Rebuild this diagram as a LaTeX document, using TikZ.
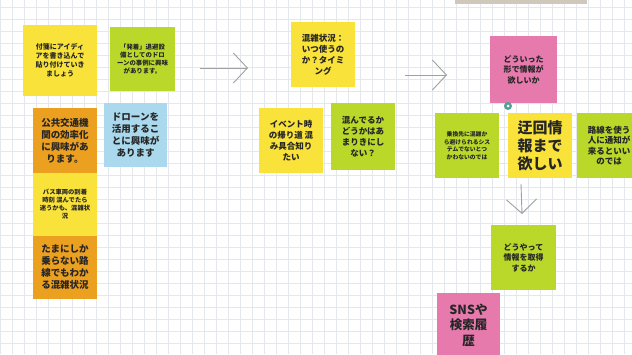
\documentclass[tikz,border=0pt]{standalone}
\usepackage{fontspec}
\newfontfamily\cjk{Noto Sans CJK JP}
\usetikzlibrary{arrows.meta}
\definecolor{nyellow}{RGB}{249,226,58}
\definecolor{ngreen}{RGB}{186,216,42}
\definecolor{norange}{RGB}{236,160,32}
\definecolor{nblue}{RGB}{170,216,236}
\definecolor{npink}{RGB}{230,122,172}
\definecolor{gridc}{RGB}{228,231,235}
\definecolor{arrowc}{RGB}{160,160,160}
\definecolor{pinc}{RGB}{82,160,150}
\definecolor{barc}{RGB}{208,200,186}
\tikzset{
  gridline/.style={draw=gridc, line width=0.5pt},
  note/.style={inner sep=0pt, align=center, text=black!85,
    font=\cjk\bfseries\fontsize{8}{10}\selectfont},
  flow/.style={draw=arrowc, line width=0.9pt,
    -{Straight Barb[length=14pt,width=30pt,line width=0.9pt]}},
}
\begin{document}
\begin{tikzpicture}[x=1pt,y=-1pt]
\useasboundingbox (0,0) rectangle (632,354);
\clip (0,0) rectangle (632,354);
\fill[white] (0,0) rectangle (632,354);
\foreach \x in {0,12,...,636} \draw[gridline] (\x,0) -- (\x,354);
\foreach \y in {7,19,...,355} \draw[gridline] (0,\y) -- (632,\y);
\fill[barc] (455,0) rectangle (587,4);

% left cluster
\node[note, fill=nyellow, minimum width=74pt, minimum height=71pt,
  font=\cjk\bfseries\fontsize{7}{9}\selectfont] (n1) at (60,60)
  {付箋にアイディ\\アを書き込んで\\貼り付けていき\\ましょう};
\node[note, fill=ngreen, minimum width=65pt, minimum height=64pt,
  font=\cjk\bfseries\fontsize{6.4}{8}\selectfont] (n2) at (142.5,59)
  {「発着」退避設\\備としてのドロ\\ーンの事例に興味\\があります。};
\node[note, fill=norange, minimum width=64pt, minimum height=66pt,
  font=\cjk\bfseries\fontsize{9.5}{12}\selectfont] (n3) at (65,141)
  {公共交通機\\関の効率化\\に興味があ\\ります。};
\node[note, fill=nblue, minimum width=63pt, minimum height=64pt,
  font=\cjk\bfseries\fontsize{9.5}{12}\selectfont] (n4) at (135.5,135)
  {ドローンを\\活用するこ\\とに興味が\\あります};
\node[note, fill=nyellow, minimum width=64pt, minimum height=63pt,
  font=\cjk\bfseries\fontsize{6.3}{8}\selectfont] (n5) at (65,204.5)
  {バス車両の到着\\時刻 混んでたら\\迷うかも、混雑状\\況};
\node[note, fill=norange, minimum width=64pt, minimum height=63pt,
  font=\cjk\bfseries\fontsize{9.5}{12}\selectfont] (n6) at (65,267.5)
  {たまにしか\\乗らない路\\線でもわか\\る混雑状況};

% middle cluster
\node[note, fill=nyellow, minimum width=64pt, minimum height=65pt,
  font=\cjk\bfseries\fontsize{8.5}{11}\selectfont] (n7) at (323,54.5)
  {混雑状況：\\いつ使うの\\か？タイミ\\ング};
\node[note, fill=nyellow, minimum width=64pt, minimum height=65pt,
  font=\cjk\bfseries\fontsize{8.5}{11}\selectfont] (n8) at (291,140.5)
  {イベント時\\の帰り道 混\\み具合知り\\たい};
\node[note, fill=ngreen, minimum width=64pt, minimum height=67pt,
  font=\cjk\bfseries\fontsize{8.5}{11}\selectfont] (n9) at (363,136.5)
  {混んでるか\\どうかはあ\\まりきにし\\ない？};

% right cluster
\node[note, fill=npink, minimum width=67pt, minimum height=67pt,
  font=\cjk\bfseries\fontsize{8}{10.5}\selectfont] (n10) at (523.5,69.5)
  {どういった\\形で情報が\\欲しいか};
\node[note, fill=ngreen, minimum width=64pt, minimum height=65pt,
  font=\cjk\bfseries\fontsize{5.8}{7.5}\selectfont] (n11) at (467,145.5)
  {乗換先に混雑か\\ら避けられるシス\\テムでないとつ\\かわないのでは};
\node[note, fill=nyellow, minimum width=64pt, minimum height=65pt,
  font=\cjk\bfseries\fontsize{15}{18}\selectfont] (n12) at (540,145.5)
  {迂回情\\報まで\\欲しい};
\node[note, fill=ngreen, minimum width=64pt, minimum height=65pt,
  font=\cjk\bfseries\fontsize{8.5}{10.5}\selectfont] (n13) at (609,145.5)
  {路線を使う\\人に通知が\\来るといい\\のでは};
\node[note, fill=ngreen, minimum width=65pt, minimum height=65pt,
  font=\cjk\bfseries\fontsize{8}{10.5}\selectfont] (n14) at (523.5,257.5)
  {どうやって\\情報を取得\\するか};
\node[note, fill=npink, minimum width=63pt, minimum height=64pt,
  font=\cjk\bfseries\fontsize{12.5}{15.5}\selectfont] (n15) at (468.5,325)
  {SNSや\\検索履\\歴};

% pin under the pink note
\node[circle, fill=pinc, minimum size=8pt, inner sep=0pt] (pin) at (508,106) {};
\fill[white] (pin.center) circle (1.5);

% arrows
\coordinate (a1s) at (200,68);
\coordinate (a1e) at (248,68);
\coordinate (a2s) at (405,75);
\coordinate (a2e) at (447,75);
\coordinate (a3s) at (521,184);
\coordinate (a3e) at (522,214);
\draw[flow] (a1s) -- (a1e);
\draw[flow] (a2s) -- (a2e);
\draw[flow] (a3s) -- (a3e);
\end{tikzpicture}
\end{document}
